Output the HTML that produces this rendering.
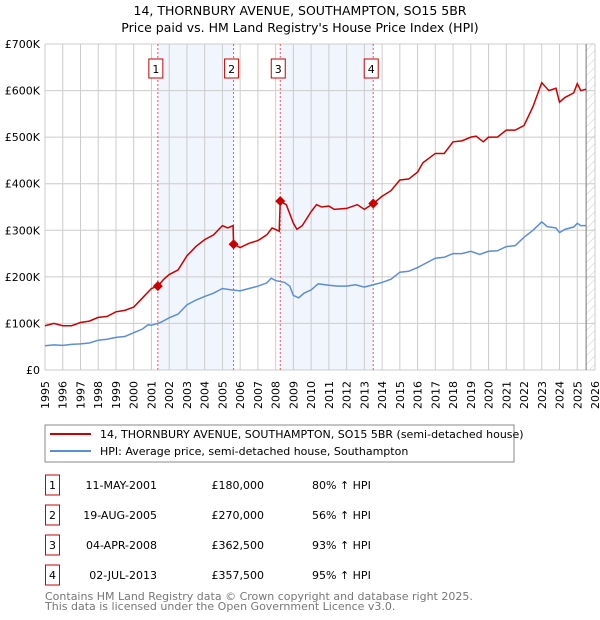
<!DOCTYPE html>
<html><head><meta charset="utf-8"><style>
body{margin:0;background:#fff;font-family:"DejaVu Sans","Liberation Sans",sans-serif;}
svg{display:block}
</style></head><body>
<svg width="600" height="620" viewBox="0 0 600 620" font-family="DejaVu Sans, Liberation Sans, sans-serif">
<text x="300" y="15" font-size="12.5" text-anchor="middle">14, THORNBURY AVENUE, SOUTHAMPTON, SO15 5BR</text>
<text x="300" y="32" font-size="12.5" text-anchor="middle">Price paid vs. HM Land Registry's House Price Index (HPI)</text>
<defs><pattern id="hatch" width="6" height="6" patternUnits="userSpaceOnUse" patternTransform="rotate(45)"><line x1="0" y1="0" x2="0" y2="6" stroke="#ccc" stroke-width="1"/></pattern></defs>
<g id="plot"></g>
<g id="legend">
<rect x="45" y="425" width="469" height="37" fill="#fff" stroke="#888"/>
<line x1="50" y1="434" x2="91" y2="434" stroke="#cc0000" stroke-width="2"/>
<text x="100" y="438" font-size="11">14, THORNBURY AVENUE, SOUTHAMPTON, SO15 5BR (semi-detached house)</text>
<line x1="50" y1="451" x2="91" y2="451" stroke="#5b8fd4" stroke-width="2"/>
<text x="100" y="455" font-size="11">HPI: Average price, semi-detached house, Southampton</text>
</g>
<g id="table" font-size="11"></g>
<text x="45" y="600" font-size="11" fill="#777">Contains HM Land Registry data © Crown copyright and database right 2025.</text>
<text x="45" y="610" font-size="11" fill="#777">This data is licensed under the Open Government Licence v3.0.</text>
</svg>
<script>
const hpiYears=[1995,1995.5,1996,1996.5,1997,1997.5,1998,1998.5,1999,1999.5,2000,2000.5,2000.8,2001,2001.5,2002,2002.5,2003,2003.5,2004,2004.5,2005,2005.5,2006,2006.5,2007,2007.5,2007.75,2008,2008.5,2008.8,2009,2009.3,2009.6,2010,2010.4,2011,2011.5,2012,2012.5,2013,2013.5,2014,2014.5,2015,2015.5,2016,2016.5,2017,2017.5,2018,2018.5,2019,2019.5,2020,2020.5,2021,2021.5,2022,2022.5,2023,2023.3,2023.8,2024,2024.3,2024.8,2025,2025.2,2025.5];
const hpiValues=[52,54,53,55,56,58,64,66,70,72,80,88,97,96,102,112,120,140,150,158,165,175,172,170,175,180,187,197,192,188,180,160,155,165,172,185,182,180,180,183,178,183,188,195,210,212,220,230,240,242,250,250,255,248,255,256,265,267,285,300,318,308,305,295,302,307,315,310,310];
const priceYears=[1995,1995.5,1996,1996.5,1997,1997.5,1998,1998.5,1999,1999.5,2000,2000.5,2001,2001.36,2001.7,2002,2002.5,2003,2003.5,2004,2004.5,2005,2005.3,2005.6,2005.63,2006,2006.5,2007,2007.5,2007.8,2008.2,2008.26,2008.6,2009,2009.2,2009.5,2010,2010.3,2010.6,2011,2011.3,2012,2012.6,2013,2013.5,2014,2014.5,2015,2015.5,2016,2016.3,2017,2017.5,2018,2018.5,2019,2019.3,2019.7,2020,2020.5,2021,2021.5,2022,2022.5,2023,2023.4,2023.8,2024,2024.3,2024.8,2025,2025.2,2025.5];
const priceValues=[95,100,95,95,102,105,113,115,125,128,135,155,175,180,195,205,215,245,265,280,290,310,305,310,270,263,272,278,290,305,298,362.5,355,315,302,310,340,355,350,352,345,347,355,345,357.5,373,385,408,410,425,445,465,465,490,492,500,502,490,500,500,515,515,525,565,617,600,605,575,585,595,615,600,603];
const saleLabels=["1","2","3","4"];
const saleYears=[2001.36,2005.63,2008.26,2013.5];
const saleValues=[180,270,362.5,357.5];
const saleDates=["11-MAY-2001","19-AUG-2005","04-APR-2008","02-JUL-2013"];
const salePrices=["£180,000","£270,000","£362,500","£357,500"];
const saleHpi=["80% ↑ HPI","56% ↑ HPI","93% ↑ HPI","95% ↑ HPI"];
const yTicks=[0,100,200,300,400,500,600,700];
const yTickLabels=["£0","£100K","£200K","£300K","£400K","£500K","£600K","£700K"];
const xTicks=[1995,1996,1997,1998,1999,2000,2001,2002,2003,2004,2005,2006,2007,2008,2009,2010,2011,2012,2013,2014,2015,2016,2017,2018,2019,2020,2021,2022,2023,2024,2025,2026];
const dataEnd=2025.5;

const X0=45,X1=595,Y0=370,Y1=44;
const xs=v=>X0+(v-1995)/(2026-1995)*(X1-X0);
const ys=v=>Y0-v/700*(Y0-Y1);
const NS="http://www.w3.org/2000/svg";
const g=document.getElementById('plot');
function mk(tag,attrs,parent){const e=document.createElementNS(NS,tag);for(const k in attrs)e.setAttribute(k,attrs[k]);(parent||g).appendChild(e);return e;}

let e;
for(let i=0;i<saleYears.length;i+=2){
 e=mk('rect',{x:xs(saleYears[i]),y:Y1,width:xs(saleYears[i+1])-xs(saleYears[i]),height:Y0-Y1,fill:'#f1f5fd'});
 
 
}
e=mk('rect',{x:xs(dataEnd),y:Y1,width:X1-xs(dataEnd),height:Y0-Y1,fill:'url(#hatch)'});


xTicks.forEach((t,i)=>{
 e=mk('line',{x1:xs(t),x2:xs(t),y1:Y1,y2:Y0,stroke:'#cccccc','stroke-width':1});
 
 
 e=mk('text',{x:0,y:0,'font-size':11,'text-anchor':'end',transform:`translate(${xs(t)+4},${Y0+11}) rotate(-90)`});
 e.textContent=t;
 
 
});
yTicks.forEach((t,i)=>{
 e=mk('line',{x1:X0,x2:X1,y1:ys(t),y2:ys(t),stroke:'#cccccc','stroke-width':1});
 
 
 e=mk('text',{x:X0-5,y:ys(t)+4,'font-size':11,'text-anchor':'end'});
 e.textContent=yTickLabels[i];
 
 
});
e=mk('line',{x1:xs(dataEnd),x2:xs(dataEnd),y1:Y1,y2:Y0,stroke:'#777','stroke-width':1});


saleYears.forEach((s,i)=>{
 e=mk('line',{x1:xs(s),x2:xs(s),y1:Y1,y2:Y0,stroke:'#ee5555','stroke-width':1,'stroke-dasharray':'2,2'});
 
 
 e=mk('rect',{x:xs(s)-9,y:59,width:14,height:19,fill:'#fff',stroke:'#cc0000'});
 
 
 e=mk('text',{x:xs(s)-2,y:73,'font-size':11,'text-anchor':'middle'});
 e.textContent=saleLabels[i];
 
 
});
e=mk('polyline',{points:hpiYears.map((y,i)=>xs(y)+','+ys(hpiValues[i])).join(' '),fill:'none',stroke:'#5b8fd4','stroke-width':1.5});


e=mk('polyline',{points:priceYears.map((y,i)=>xs(y)+','+ys(priceValues[i])).join(' '),fill:'none',stroke:'#cc0000','stroke-width':1.5});


saleYears.forEach((s,i)=>{
 const cx=xs(s),cy=ys(saleValues[i]);
 e=mk('polygon',{points:`${cx},${cy-5} ${cx+5},${cy} ${cx},${cy+5} ${cx-5},${cy}`,fill:'#cc0000'});
 
 
});
const tb=document.getElementById('table');
saleLabels.forEach((l,i)=>{
 const y=475+i*30;
 e=mk('rect',{x:45.5,y:y,width:14,height:20,fill:'#fff',stroke:'#cc0000'},tb);
 
 
 e=mk('text',{x:52.5,y:y+14,'text-anchor':'middle'},tb);e.textContent=l;
 
 
 e=mk('text',{x:157,y:y+14,'text-anchor':'end'},tb);e.textContent=saleDates[i];
 
 
 e=mk('text',{x:264,y:y+14,'text-anchor':'end'},tb);e.textContent=salePrices[i];
 
 
 e=mk('text',{x:312,y:y+14},tb);e.textContent=saleHpi[i];
 
 
});
</script>
</body></html>
